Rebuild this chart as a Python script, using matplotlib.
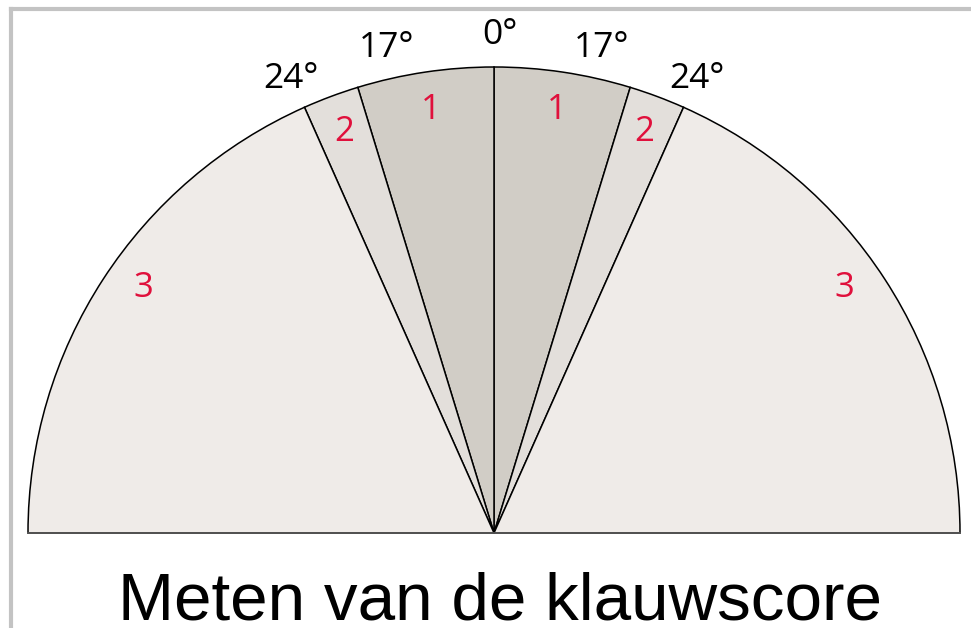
"""
Meten van de klauwscore - semicircle with angle zones
"""
import numpy as np
import matplotlib
matplotlib.use("Agg")
import matplotlib.pyplot as plt
from matplotlib.patches import Wedge

# zone boundaries (degrees from vertical) and scores
bounds = [0, 17, 24, 90]
scores = ["1", "2", "3"]
zone_colors = ["#d1cdc6", "#e3dfdb", "#efebe8"]
angle_labels = ["0°", "17°", "24°"]
title = "Meten van de klauwscore"

W, H = 971, 628
fig = plt.figure(figsize=(W / 100, H / 100), dpi=100)
ax = fig.add_axes([0, 0, 1, 1])
ax.set_xlim(0, W)
ax.set_ylim(0, H)
ax.axis("off")

cx, cy, r = 494, H - 533, 466

# ── wedges, mirrored left/right ──
for i, sc in enumerate(scores):
    a0, a1 = bounds[i], bounds[i + 1]
    for side in (1, -1):
        if side == 1:
            t1, t2 = 90 - a1, 90 - a0
        else:
            t1, t2 = 90 + a0, 90 + a1
        ax.add_patch(Wedge((cx, cy), r, t1, t2, facecolor=zone_colors[i],
                           edgecolor="black", lw=1.1))
        mid = np.radians((a0 + a1) / 2 - (2 if i == 2 else 0))
        ax.text(cx + side * 428 * np.sin(mid), cy + 428 * np.cos(mid), sc,
                color="#e0103c", fontsize=25, family="Open Sans",
                ha="center", va="center")

# baseline
ax.plot([cx - r, cx + r], [cy, cy], color="#555555", lw=1.3)

# ── boundary angle labels ──
label_pos = [(0, 498), (12.3, 496), (23.9, 497)]
for lbl, (ang, dist) in zip(angle_labels, label_pos):
    a = np.radians(ang)
    sides = (1,) if ang == 0 else (1, -1)
    for side in sides:
        x = cx + side * dist * np.sin(a) + (6 if ang == 0 else 2 * side)
        ax.text(x, cy + dist * np.cos(a), lbl, fontsize=25.5, family="Open Sans",
                ha="center", va="center", color="black")

# title
ax.text(500, H - 620, title, fontsize=48.5, family="Liberation Sans",
        ha="center", va="baseline", color="black")

# frame (left and top)
ax.plot([11, 11], [0, H - 9], color="#c3c3c3", lw=3, solid_capstyle="projecting")
ax.plot([11, W], [H - 9, H - 9], color="#c3c3c3", lw=3, solid_capstyle="projecting")

fig.savefig("out.png", dpi=100)
plt.close(fig)
